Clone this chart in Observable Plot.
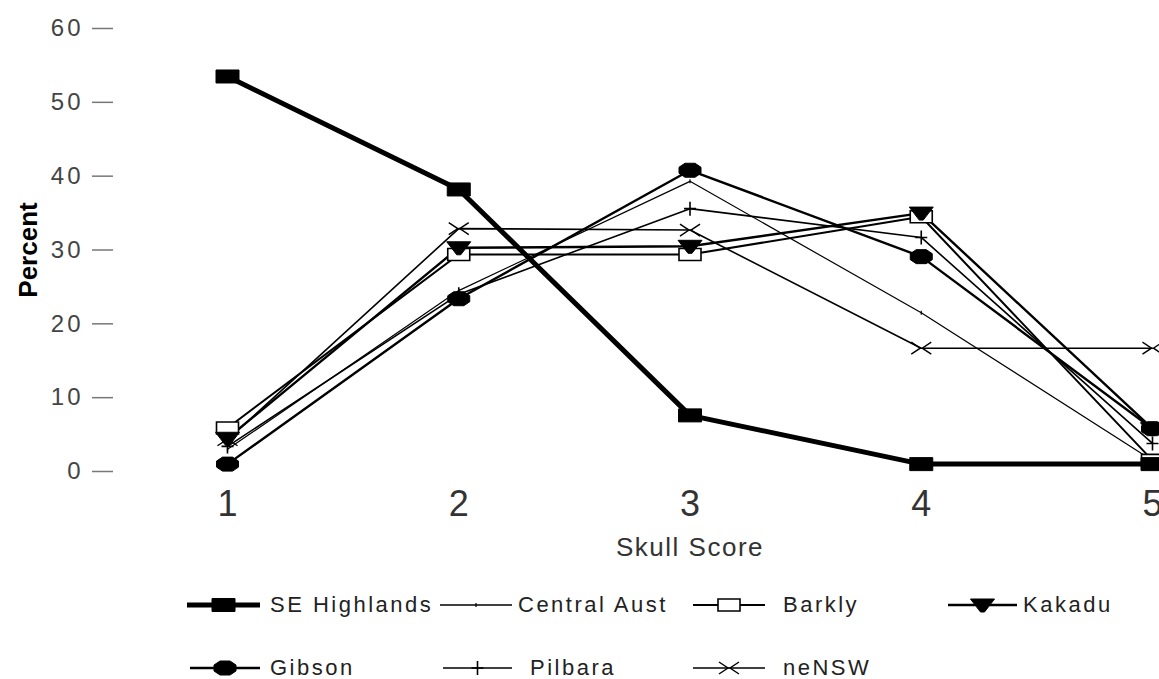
<!DOCTYPE html>
<html>
<head>
<meta charset="utf-8">
<script src="https://cdn.jsdelivr.net/npm/d3@7"></script>
<script src="https://cdn.jsdelivr.net/npm/@observablehq/plot@0.6"></script>
<style>
  body { margin: 0; background: #fff; font-family: "Liberation Sans", Arial, sans-serif; }
  #wrap { width: 1159px; }
  #legend { position: relative; width: 1159px; height: 109px; }
  .item { position: absolute; display: flex; align-items: center; height: 30px; font-size: 22px; letter-spacing: 2.5px; color: #222; }
  .item svg { display: block; }
  .item span { white-space: nowrap; }
  .yax text { letter-spacing: 3px; }
  .xlab { letter-spacing: 1.5px; }
</style>
</head>
<body>
<div id="wrap">
  <div id="chart"></div>
  <div id="legend"></div>
</div>
<script>
// ---- data ----
const scores = [1, 2, 3, 4, 5];
const seriesNames = ["SE Highlands", "Central Aust", "Barkly", "Kakadu", "Gibson", "Pilbara", "neNSW"];
const seHighlands = [53.5, 38.2, 7.6, 1.0, 1.0];
const centralAust = [3.0, 24.5, 39.3, 21.5, 1.5];
const barkly      = [5.9, 29.4, 29.4, 34.5, 1.5];
const kakadu      = [4.5, 30.3, 30.5, 35.0, 5.8];
const gibson      = [1.0, 23.4, 40.8, 29.1, 5.8];
const pilbara     = [3.4, 24.0, 35.6, 31.7, 3.8];
const neNSW       = [4.3, 32.9, 32.7, 16.7, 16.7];
const yTicks = [0, 10, 20, 30, 40, 50, 60];
const xLabel = "Skull Score";
const yLabel = "Percent";

const seriesValues = [seHighlands, centralAust, barkly, kakadu, gibson, pilbara, neNSW];

// ---- marker shapes ----
const symRect = {draw(c) { c.moveTo(-11.5, -6.5); c.lineTo(11.5, -6.5); c.lineTo(11.5, 6.5); c.lineTo(-11.5, 6.5); c.closePath(); }};
const symBox = {draw(c) { c.moveTo(-11, -6); c.lineTo(11, -6); c.lineTo(11, 6); c.lineTo(-11, 6); c.closePath(); }};
const symTri = {draw(c) { c.moveTo(-12, -6); c.lineTo(12, -6); c.lineTo(2, 7); c.lineTo(-2, 7); c.closePath(); }};
const symOct = {draw(c) { c.moveTo(-5, -7); c.lineTo(5, -7); c.lineTo(11, -3); c.lineTo(11, 3); c.lineTo(5, 7); c.lineTo(-5, 7); c.lineTo(-11, 3); c.lineTo(-11, -3); c.closePath(); }};
const symPlus = {draw(c) { c.moveTo(0, -7); c.lineTo(0, 7); c.moveTo(-6, 0); c.lineTo(6, 0); }};
const symCross = {draw(c) { c.moveTo(-10, -6); c.lineTo(-1, 0); c.lineTo(-10, 6); c.moveTo(10, -6); c.lineTo(1, 0); c.lineTo(10, 6); }};
const symTick = {draw(c) { c.moveTo(0, -2); c.lineTo(0, 2); }};

const styles = {
  "SE Highlands": {w: 5, sym: symRect, fill: "black", stroke: "black", sw: 1},
  "Central Aust": {w: 1.2, sym: symTick, fill: "none", stroke: "black", sw: 1.2},
  "Barkly": {w: 2, sym: symBox, fill: "white", stroke: "black", sw: 1.6},
  "Kakadu": {w: 2.4, sym: symTri, fill: "black", stroke: "black", sw: 1},
  "Gibson": {w: 2.4, sym: symOct, fill: "black", stroke: "black", sw: 1},
  "Pilbara": {w: 1.6, sym: symPlus, fill: "none", stroke: "black", sw: 1.6},
  "neNSW": {w: 1.6, sym: symCross, fill: "none", stroke: "black", sw: 1.4}
};

const rows = seriesNames.flatMap((name, i) => scores.map((s, j) => ({series: name, score: s, value: seriesValues[i][j]})));

const drawOrder = ["Central Aust", "Pilbara", "neNSW", "Barkly", "Kakadu", "Gibson", "SE Highlands"];
const marks = [];
for (const name of drawOrder) {
  const d = rows.filter(r => r.series === name);
  const st = styles[name];
  marks.push(Plot.line(d, {x: "score", y: "value", stroke: "black", strokeWidth: st.w}));
}
for (const name of drawOrder) {
  const d = rows.filter(r => r.series === name);
  const st = styles[name];
  marks.push(Plot.dot(d, {x: "score", y: "value", symbol: st.sym, fill: st.fill, stroke: st.stroke, strokeWidth: st.sw, r: 6}));
}

const chart = Plot.plot({
  width: 1159,
  height: 570,
  marginLeft: 227,
  marginRight: 7,
  marginTop: 28,
  marginBottom: 99,
  style: {fontFamily: "Liberation Sans, Arial, sans-serif", overflow: "visible", background: "white"},
  x: {domain: [1, 5]},
  y: {domain: [0, 60]},
  marks: [
    Plot.axisY({ticks: yTicks, tickSize: 21, tickPadding: 9, dx: -114, fontSize: 24, stroke: "#777", color: "#444", label: null, strokeWidth: 1.5, className: "yax"}),
    Plot.axisX({ticks: scores, tickFormat: d3.format("d"), tickSize: 0, tickPadding: 19, fontSize: 36, color: "#333", label: null}),
    Plot.text([xLabel], {frameAnchor: "bottom", lineAnchor: "middle", dy: 76, fontSize: 26, fill: "#333", className: "xlab"}),
    Plot.text([yLabel], {frameAnchor: "left", textAnchor: "middle", lineAnchor: "middle", dx: -199, rotate: -90, fontSize: 26, fontWeight: "bold", fill: "black"}),
    ...marks
  ]
});
document.getElementById("chart").appendChild(chart);

// ---- legend ----
const legendPos = [
  {name: "SE Highlands", left: 187, top: 35, sw: 73, gap: 10},
  {name: "Central Aust", left: 440, top: 35, sw: 72, gap: 6},
  {name: "Barkly", left: 693, top: 35, sw: 72, gap: 18},
  {name: "Kakadu", left: 948, top: 35, sw: 69, gap: 6},
  {name: "Gibson", left: 190, top: 98, sw: 70, gap: 10},
  {name: "Pilbara", left: 443, top: 98, sw: 69, gap: 18},
  {name: "neNSW", left: 693, top: 98, sw: 72, gap: 18}
];
const legend = document.getElementById("legend");
for (const p of legendPos) {
  const st = styles[p.name];
  const div = document.createElement("div");
  div.className = "item";
  div.style.left = p.left + "px";
  div.style.top = (p.top - 15) + "px";
  const svg = d3.create("svg").attr("width", p.sw).attr("height", 30).style("overflow", "visible");
  svg.append("line").attr("x1", 0).attr("x2", p.sw).attr("y1", 15).attr("y2", 15)
    .attr("stroke", "black").attr("stroke-width", Math.max(st.w, 1.6));
  const path = d3.path();
  st.sym.draw(path);
  svg.append("path").attr("d", path.toString()).attr("transform", `translate(${p.sw / 2},15)`)
    .attr("fill", st.fill).attr("stroke", st.stroke).attr("stroke-width", st.sw);
  div.appendChild(svg.node());
  const span = document.createElement("span");
  span.style.marginLeft = p.gap + "px";
  span.textContent = p.name;
  div.appendChild(span);
  legend.appendChild(div);
}
</script>
</body>
</html>
